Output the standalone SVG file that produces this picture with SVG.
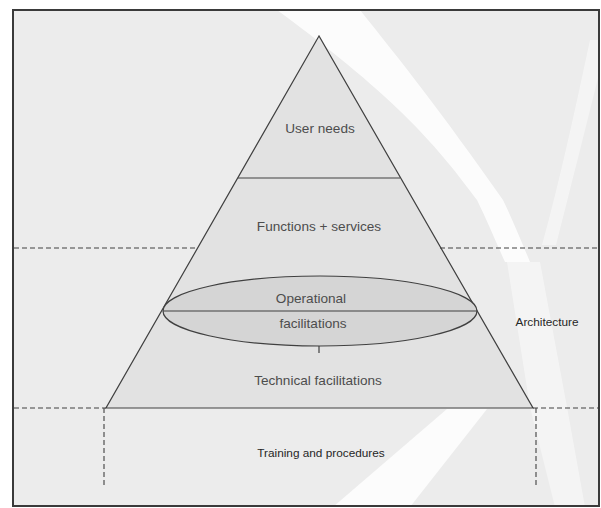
<svg xmlns="http://www.w3.org/2000/svg" width="601" height="508" viewBox="0 0 601 508">
  <style>
    .lbl { font-family: "Liberation Sans", Arial, sans-serif; fill: #4d4d4d; font-size: 13.6px; text-anchor: middle; }
    .lbl2 { font-family: "Liberation Sans", Arial, sans-serif; fill: #262626; font-size: 11.8px; text-anchor: middle; }
    .solid { stroke: #404040; stroke-width: 1.2; fill: none; }
    .dash { stroke: #404040; stroke-width: 1.1; fill: none; stroke-dasharray: 5 3; }
    .swoosh { fill: #ffffff; }
  </style>
  <rect x="0" y="0" width="601" height="508" fill="#ffffff"/>
  <g id="background">
    <rect x="12" y="9" width="588" height="498" fill="#ececec"/>
    <path class="swoosh" opacity="0.85" d="M277 10 L360 10 C400 60 440 110 503 200 C515 225 525 250 530 262 L505 262 C495 240 487 220 477 200 C440 150 400 100 277 10 Z"/>
    <path class="swoosh" opacity="0.45" d="M590 40 L600 40 L600 70 C585 130 570 190 556 245 L542 245 C560 180 575 110 590 40 Z"/>
    <path class="swoosh" opacity="0.45" d="M507 262 L540 262 L567 407 L585 507 L555 507 L530 407 Z"/>
    <path class="swoosh" opacity="0.85" d="M333 507 L410 507 L487 409 L447 409 Z"/>
  </g>
  <g id="pyramid">
    <polygon points="319,36 106,408 533,408" fill="#e0e0e0" fill-opacity="0.8" stroke="#404040" stroke-width="1.2"/>
  </g>
  <g id="user-needs">
    <line class="solid" x1="238" y1="178" x2="400" y2="178"/>
    <text class="lbl" x="320" y="133">User needs</text>
  </g>
  <g id="functions-services">
    <text class="lbl" x="319" y="231">Functions + services</text>
  </g>
  <g id="operational-facilitations">
    <ellipse cx="320" cy="311" rx="157" ry="35" fill="#d5d5d5" stroke="#404040" stroke-width="1.2"/>
    <line class="solid" x1="163" y1="311" x2="477" y2="311"/>
    <line class="solid" x1="319" y1="346" x2="319" y2="353"/>
    <text class="lbl" x="311" y="303">Operational</text>
    <text class="lbl" x="313" y="328">facilitations</text>
  </g>
  <g id="technical-facilitations">
    <text class="lbl" x="318" y="385">Technical facilitations</text>
  </g>
  <g id="architecture">
    <text class="lbl2" x="547" y="326">Architecture</text>
  </g>
  <g id="training-procedures">
    <text class="lbl2" x="321" y="457">Training and procedures</text>
  </g>
  <g id="connectors">
    <line class="dash" x1="14" y1="248" x2="198" y2="248"/>
    <line class="dash" x1="440" y1="248" x2="600" y2="248"/>
    <line class="dash" x1="14" y1="408" x2="106" y2="408"/>
    <line class="dash" x1="533" y1="408" x2="600" y2="408"/>
    <line class="dash" x1="104" y1="408" x2="104" y2="487"/>
    <line class="dash" x1="536" y1="408" x2="536" y2="487"/>
  </g>
  <g id="frame">
    <rect x="13" y="10" width="586" height="496" fill="none" stroke="#3a3a3a" stroke-width="2"/>
  </g>
</svg>
